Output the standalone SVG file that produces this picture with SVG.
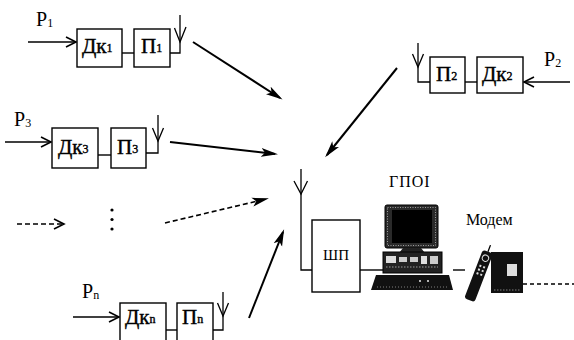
<svg xmlns="http://www.w3.org/2000/svg" width="574" height="340" viewBox="0 0 574 340" font-family="Liberation Serif, Times New Roman, serif">
  <style>
    .box { fill: #fff; stroke: #000; stroke-width: 1.4; }
    .ln { fill: none; stroke: #000; stroke-width: 1.4; }
    .ant { fill: none; stroke: #000; stroke-width: 1.3; }
    .arr { fill: none; stroke: #000; stroke-width: 2; }
    .dash { fill: none; stroke: #000; stroke-width: 1.6; stroke-dasharray: 5 3; }
    .big { font-size: 21px; stroke: #000; stroke-width: 0.4; }
    .sub { font-size: 12px; }
    .lbl { font-size: 20px; }
    .cap { font-size: 16px; }
  </style>
  <defs>
    <!-- open arrowhead for the input signals -->
    <marker id="open" markerWidth="13" markerHeight="13" refX="11" refY="6.5" orient="auto" markerUnits="userSpaceOnUse">
      <path d="M1,1.5 L11,6.5 L1,11.5" fill="none" stroke="#000" stroke-width="1.6"/>
    </marker>
    <!-- filled arrowhead for the radio links -->
    <marker id="solid" markerWidth="18" markerHeight="10" refX="14" refY="5" orient="auto" markerUnits="userSpaceOnUse">
      <path d="M0,0.5 L17,5 L0,9.5 L4,5 z" fill="#000"/>
    </marker>
  </defs>

  <!-- Source 1 -->
  <g id="src1">
    <text class="lbl" font-family="Liberation Serif" x="36" y="26">P<tspan class="sub" dy="1">1</tspan></text>
    <line class="ln" x1="28" y1="42" x2="76" y2="42" marker-end="url(#open)"/>
    <rect class="box" x="77" y="29" width="45" height="38"/>
    <text class="big" font-family="Liberation Serif" x="82" y="53">Дк<tspan class="sub" dy="-1">1</tspan></text>
    <line class="ln" x1="122" y1="53" x2="134" y2="53"/>
    <rect class="box" x="134" y="29" width="36" height="38"/>
    <text class="big" font-family="Liberation Serif" x="141" y="53">П<tspan class="sub" dy="-1">1</tspan></text>
    <polyline class="ant" points="170,53 180,53 180,15"/>
    <polyline class="ant" points="174.5,28 180,42 186,27"/>
  </g>

  <!-- Source 2 -->
  <g id="src2">
    <text class="lbl" font-family="Liberation Serif" x="544" y="66">P<tspan class="sub" dy="1">2</tspan></text>
    <line class="ln" x1="570" y1="82" x2="524" y2="82" marker-end="url(#open)"/>
    <rect class="box" x="477" y="57" width="46" height="36"/>
    <text class="big" font-family="Liberation Serif" x="482" y="81">Дк<tspan class="sub" dy="-1">2</tspan></text>
    <line class="ln" x1="465" y1="82" x2="477" y2="82"/>
    <rect class="box" x="430" y="57" width="35" height="36"/>
    <text class="big" font-family="Liberation Serif" x="436" y="81">П<tspan class="sub" dy="-1">2</tspan></text>
    <polyline class="ant" points="430,82 418,82 418,43"/>
    <polyline class="ant" points="412.5,54 418,67 423.5,54"/>
  </g>

  <!-- Source 3 -->
  <g id="src3">
    <text class="lbl" font-family="Liberation Serif" x="14" y="126">P<tspan class="sub" dy="1">3</tspan></text>
    <line class="ln" x1="5" y1="142" x2="51" y2="142" marker-end="url(#open)"/>
    <rect class="box" x="52" y="128" width="46" height="40"/>
    <text class="big" font-family="Liberation Serif" x="58" y="154">Дк<tspan class="sub" dy="-1">3</tspan></text>
    <line class="ln" x1="98" y1="155" x2="111" y2="155"/>
    <rect class="box" x="111" y="128" width="35" height="40"/>
    <text class="big" font-family="Liberation Serif" x="117" y="154">П<tspan class="sub" dy="-1">3</tspan></text>
    <polyline class="ant" points="146,153 158,153 158,115"/>
    <polyline class="ant" points="152.5,128 158,141 163.5,128"/>
  </g>

  <!-- Further sources (omitted) -->
  <g id="srcMore">
    <line class="dash" x1="17" y1="224" x2="64" y2="224" marker-end="url(#open)"/>
    <circle cx="112" cy="210" r="1.6" fill="#000"/>
    <circle cx="112" cy="219.5" r="1.6" fill="#000"/>
    <circle cx="112" cy="229" r="1.6" fill="#000"/>
  </g>

  <!-- Source n -->
  <g id="srcN">
    <text class="lbl" font-family="Liberation Serif" x="82" y="298">P<tspan class="sub" dy="1">n</tspan></text>
    <line class="ln" x1="73" y1="317" x2="119" y2="317" marker-end="url(#open)"/>
    <rect class="box" x="120" y="303" width="46" height="45"/>
    <text class="big" font-family="Liberation Serif" x="125" y="324">Дк<tspan class="sub" dy="-1">n</tspan></text>
    <line class="ln" x1="166" y1="330" x2="177" y2="330"/>
    <rect class="box" x="177" y="303" width="36" height="45"/>
    <text class="big" font-family="Liberation Serif" x="182" y="324">П<tspan class="sub" dy="-1">n</tspan></text>
    <polyline class="ant" points="213,330 223,330 223,292"/>
    <polyline class="ant" points="217.5,303 223,316 228.5,303"/>
  </g>

  <!-- Receiver ШП -->
  <g id="receiver">
    <polyline class="ant" points="312,270 301,270 301,169"/>
    <polyline class="ant" points="294,181 301,194 307.5,181"/>
    <rect class="box" x="312" y="220" width="48" height="72"/>
    <text font-family="Liberation Serif" x="336" y="260" font-size="15" text-anchor="middle">ШП</text>
  </g>

  <!-- Processing station ГПОІ -->
  <g id="station">
    <text class="cap" font-family="Liberation Serif" x="389" y="187" letter-spacing="1">ГПОІ</text>
    <!-- monitor -->
    <rect x="385" y="205" width="53" height="43" rx="2" fill="#2a2a2a" stroke="#000" stroke-width="1"/>
    <rect x="387.5" y="207.5" width="48" height="38" fill="none" stroke="#bbb" stroke-width="0.8" stroke-dasharray="1 1.5"/>
    <rect x="392" y="210" width="40" height="33" fill="#000"/>
    <path d="M403,248 L421,248 L425,253 L399,253 z" fill="#222"/>
    <!-- system unit -->
    <rect x="383" y="252" width="59" height="21" fill="#222" stroke="#000" stroke-width="1"/>
    <rect x="386" y="256" width="10" height="7" fill="#ddd"/>
    <rect x="399" y="257" width="8" height="5" fill="#ccc"/>
    <rect x="410" y="257" width="8" height="5" fill="#ccc"/>
    <rect x="421" y="256" width="6" height="8" fill="#ddd"/>
    <rect x="430" y="256" width="8" height="8" fill="#ccc"/>
    <line x1="386" y1="267" x2="438" y2="267" stroke="#bbb" stroke-width="0.8" stroke-dasharray="1.5 1.5"/>
    <!-- keyboard -->
    <path d="M376,275 L449,275 L453,290 L371,290 z" fill="#111"/>
    <line x1="377" y1="287" x2="449" y2="287" stroke="#999" stroke-width="0.8" stroke-dasharray="1 2"/>
    <circle cx="420" cy="281" r="0.9" fill="#fff"/>
    <circle cx="428" cy="281" r="0.9" fill="#fff"/>
  </g>

  <!-- Modem / telephone -->
  <g id="modem">
    <text class="cap" font-family="Liberation Serif" x="466" y="225">Модем</text>
    <!-- handset -->
    <g transform="rotate(21 479 275)">
      <rect x="473.5" y="250" width="11" height="52" rx="3" fill="#111"/>
      <circle cx="479" cy="257" r="3.2" fill="none" stroke="#ddd" stroke-width="1"/>
      <rect x="476" y="265" width="2" height="2" fill="#ddd"/>
      <rect x="480" y="265" width="2" height="2" fill="#ddd"/>
      <rect x="476" y="269" width="2" height="2" fill="#ddd"/>
      <rect x="480" y="269" width="2" height="2" fill="#ddd"/>
      <rect x="476" y="273" width="2" height="2" fill="#ddd"/>
      <rect x="480" y="273" width="2" height="2" fill="#ddd"/>
      <line x1="479" y1="250" x2="479" y2="243" stroke="#000" stroke-width="1.3"/>
    </g>
    <!-- base unit -->
    <rect x="491" y="252" width="32" height="41" fill="#111"/>
    <rect x="507" y="264" width="10" height="12" fill="#ddd"/>
    <line x1="494" y1="290" x2="520" y2="290" stroke="#999" stroke-width="0.8" stroke-dasharray="1.5 1.5"/>
  </g>

  <!-- Connectors -->
  <g id="connectors">
    <line class="arr" x1="193" y1="42" x2="280" y2="98" marker-end="url(#solid)"/>
    <line class="arr" x1="170" y1="142" x2="275" y2="154" marker-end="url(#solid)"/>
    <line class="dash" x1="165" y1="223" x2="266" y2="199" stroke-width="1.8" marker-end="url(#solid)"/>
    <line class="arr" x1="249" y1="318" x2="283" y2="232" marker-end="url(#solid)"/>
    <line class="arr" x1="397" y1="68" x2="327" y2="155" marker-end="url(#solid)"/>
    <line class="ln" x1="360" y1="270" x2="383" y2="270"/>
    <line class="ln" x1="453" y1="270" x2="465" y2="270"/>
    <line class="ln" x1="523" y1="284" x2="574" y2="284" stroke-dasharray="4 3"/>
  </g>
</svg>
